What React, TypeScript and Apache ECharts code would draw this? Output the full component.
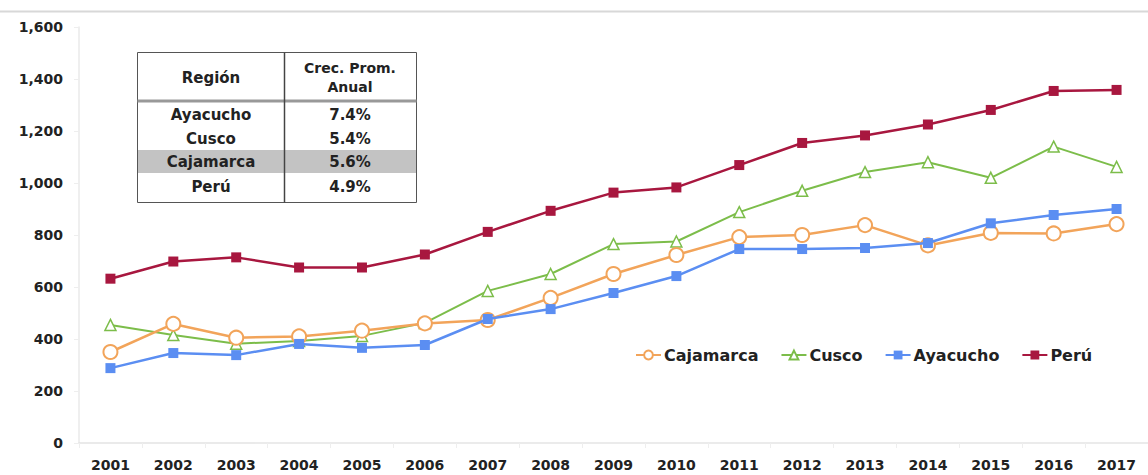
import React, { useEffect, useRef } from "react";
import * as echarts from "echarts";

const years = ["2001","2002","2003","2004","2005","2006","2007","2008","2009","2010","2011","2012","2013","2014","2015","2016","2017"];
const cajamarca = [350, 458, 405, 410, 432, 460, 473, 558, 650, 723, 792, 800, 838, 760, 808, 806, 842];
const cusco = [454, 415, 382, 392, 412, 462, 585, 650, 765, 775, 888, 970, 1042, 1080, 1020, 1140, 1062];
const ayacucho = [288, 346, 338, 381, 366, 377, 477, 515, 577, 642, 746, 746, 750, 769, 845, 877, 900];
const peru = [632, 698, 714, 675, 675, 725, 812, 893, 963, 983, 1069, 1154, 1183, 1225, 1281, 1354, 1358];

const tableHeader = ["Región", "Crec. Prom.\nAnual"];
const tableRegions = ["Ayacucho", "Cusco", "Cajamarca", "Perú"];
const tableGrowth = ["7.4%", "5.4%", "5.6%", "4.9%"];

const FONT = "'DejaVu Sans', sans-serif";

export default function App() {
  const ref = useRef<HTMLDivElement>(null);
  useEffect(() => {
    if (!ref.current) return;
    const chart = echarts.init(ref.current, null, { renderer: "svg" });
    const rowY = [115, 139, 162, 187];
    const graphics: any[] = [
      { type: "line", shape: { x1: 0, y1: 11.5, x2: 1148, y2: 11.5 }, style: { stroke: "#d8d8d8", lineWidth: 2 }, silent: true },
      { type: "rect", shape: { x: 137.5, y: 150, width: 279, height: 23 }, style: { fill: "#c3c3c3" }, silent: true },
      { type: "rect", shape: { x: 137.5, y: 52.5, width: 279, height: 150 }, style: { fill: "none", stroke: "#555", lineWidth: 1 }, silent: true },
      { type: "line", shape: { x1: 137.5, y1: 101, x2: 416.5, y2: 101 }, style: { stroke: "#999", lineWidth: 3 }, silent: true },
      { type: "line", shape: { x1: 284.5, y1: 52.5, x2: 284.5, y2: 202.5 }, style: { stroke: "#444", lineWidth: 1.5 }, silent: true },
      { type: "text", x: 211, y: 78, style: { text: tableHeader[0], font: `bold 15px ${FONT}`, fill: "#222", align: "center", verticalAlign: "middle" }, silent: true },
      { type: "text", x: 350, y: 77, style: { text: tableHeader[1], font: `bold 14px ${FONT}`, fill: "#222", align: "center", verticalAlign: "middle", lineHeight: 19 }, silent: true },
    ];
    tableRegions.forEach((r, i) => {
      graphics.push({ type: "text", x: 211, y: rowY[i], style: { text: r, font: `bold 15px ${FONT}`, fill: "#222", align: "center", verticalAlign: "middle" }, silent: true });
      graphics.push({ type: "text", x: 350, y: rowY[i], style: { text: tableGrowth[i], font: `bold 15px ${FONT}`, fill: "#222", align: "center", verticalAlign: "middle" }, silent: true });
    });

    chart.setOption({
      animation: false,
      backgroundColor: "#ffffff",
      grid: { left: 79, right: -7, top: 27, bottom: 32, containLabel: false },
      legend: {
        left: 630,
        top: 342,
        itemWidth: 25,
        itemHeight: 11,
        itemGap: 22,
        textStyle: { fontFamily: FONT, fontWeight: "bold", fontSize: 16, color: "#222", padding: [0, 0, 0, -2] },
        data: ["Cajamarca", "Cusco", "Ayacucho", "Perú"],
      },
      xAxis: {
        type: "category",
        data: years,
        boundaryGap: true,
        axisLine: { lineStyle: { color: "#e4e4e4", width: 1.5 } },
        axisTick: { show: true, lineStyle: { color: "#eeeeee" }, length: 5 },
        axisLabel: { fontFamily: FONT, fontWeight: "bold", fontSize: 14, color: "#222", margin: 15 },
        splitLine: { show: false },
      },
      yAxis: {
        type: "value",
        min: 0,
        max: 1600,
        interval: 200,
        axisLine: { show: true, lineStyle: { color: "#eaeaea", width: 1.5 } },
        axisTick: { show: true, lineStyle: { color: "#eeeeee" }, length: 5 },
        axisLabel: {
          fontFamily: FONT, fontWeight: "bold", fontSize: 14, color: "#222", margin: 16,
          formatter: (v: number) => v.toLocaleString("en-US"),
        },
        splitLine: { show: false },
      },
      series: [
        {
          name: "Cajamarca", type: "line", data: cajamarca,
          symbol: "circle", symbolSize: 14,
          lineStyle: { color: "#f2a45a", width: 2.5 },
          itemStyle: { color: "#ffffff", borderColor: "#f2a45a", borderWidth: 2 },
          z: 3,
        },
        {
          name: "Cusco", type: "line", data: cusco,
          symbol: "triangle", symbolSize: 11,
          lineStyle: { color: "#7cbd4a", width: 2 },
          itemStyle: { color: "#ffffff", borderColor: "#7cbd4a", borderWidth: 1.5 },
          z: 2,
        },
        {
          name: "Ayacucho", type: "line", data: ayacucho,
          symbol: "rect", symbolSize: 10,
          lineStyle: { color: "#5b8ef2", width: 2.5 },
          itemStyle: { color: "#5b8ef2" },
          z: 4,
        },
        {
          name: "Perú", type: "line", data: peru,
          symbol: "rect", symbolSize: 10,
          lineStyle: { color: "#a8173f", width: 2.5 },
          itemStyle: { color: "#a8173f" },
          z: 5,
        },
      ],
      graphic: graphics,
    });
    return () => chart.dispose();
  }, []);
  return (
    <div
      ref={ref}
      style={{ position: "fixed", left: 0, top: 0, width: 1148, height: 475, background: "#fff" }}
    />
  );
}
